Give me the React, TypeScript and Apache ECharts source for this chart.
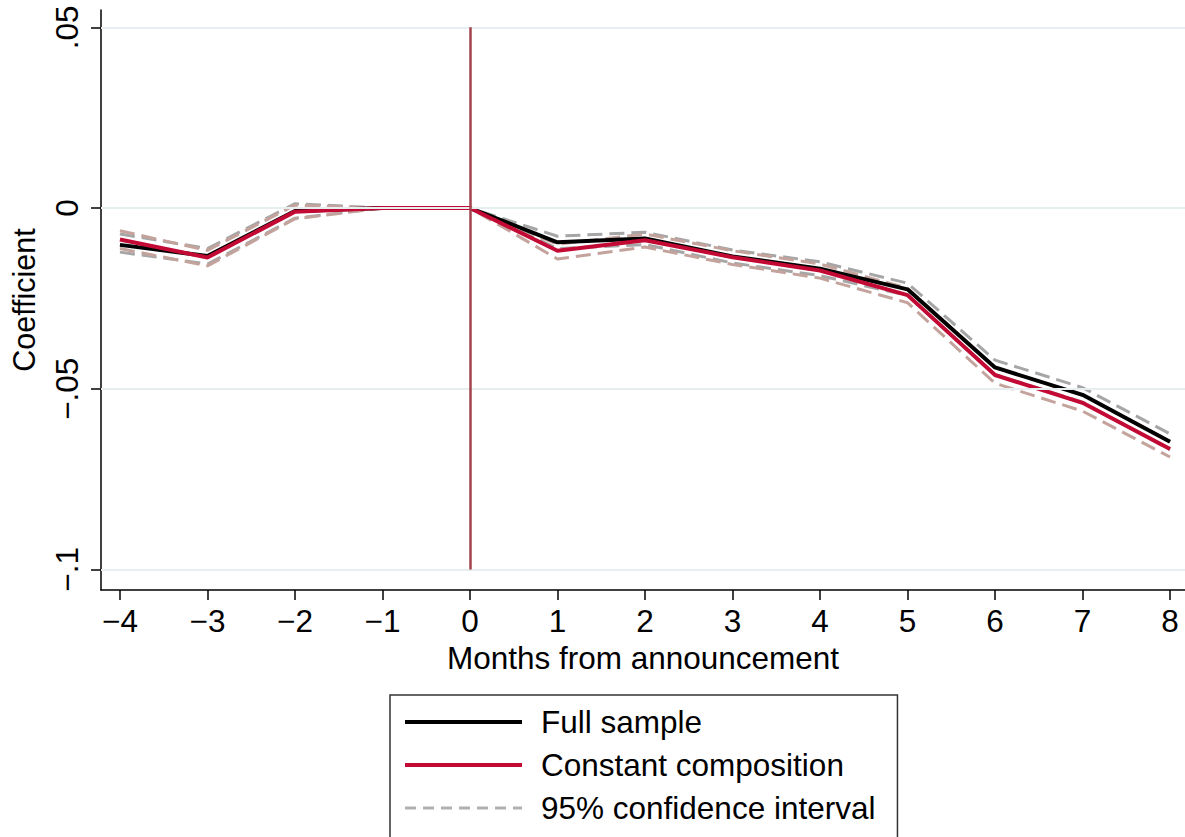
import React, { useEffect, useRef } from "react";
import * as echarts from "echarts";

const months = [-4, -3, -2, -1, 0, 1, 2, 3, 4, 5, 6, 7, 8];
const fullSample = [-0.0102, -0.0133, -0.0008, 0, 0, -0.0095, -0.0084, -0.0134, -0.0168, -0.0225, -0.0441, -0.0517, -0.0647];
const fullUpper = [-0.0072, -0.0112, 0.0012, 0, 0, -0.0078, -0.0067, -0.0116, -0.0149, -0.0208, -0.0421, -0.0497, -0.0625];
const fullLower = [-0.0122, -0.0155, -0.0028, 0, 0, -0.0112, -0.0101, -0.0152, -0.0187, -0.0242, -0.0461, -0.0537, -0.0669];
const constComp = [-0.0087, -0.0137, -0.001, 0, 0, -0.0118, -0.0089, -0.0136, -0.0173, -0.0241, -0.0462, -0.0539, -0.0667];
const constUpper = [-0.0063, -0.0117, 0.0008, 0, 0, -0.01, -0.0072, -0.0118, -0.0155, -0.0222, -0.0442, -0.0518, -0.0646];
const constLower = [-0.0112, -0.016, -0.003, 0, 0, -0.0141, -0.0108, -0.0156, -0.0194, -0.0262, -0.0485, -0.0562, -0.0689];
const yTicks = [-0.1, -0.05, 0, 0.05];
const yTickLabels: Record<string, string> = { "-0.1": "\u2212.1", "-0.05": "\u2212.05", "0": "0", "0.05": ".05" };

const FONT = "Liberation Sans, Arial, Helvetica, sans-serif";
const FS = 31.5;

function pairs(vals: number[]) {
  return months.map((m, i) => [m, vals[i]]);
}

export default function App() {
  const ref = useRef<HTMLDivElement>(null);
  useEffect(() => {
    if (!ref.current) return;
    const chart = echarts.init(ref.current, null, { renderer: "svg" });
    const dashed = (name: string, data: number[], color: string) => ({
      name,
      type: "line",
      data: pairs(data),
      symbol: "none",
      z: 2,
      lineStyle: { color, width: 3, type: [15, 7] },
      itemStyle: { color },
    });
    chart.setOption({
      animation: false,
      backgroundColor: "#ffffff",
      textStyle: { fontFamily: FONT },
      grid: { left: 98, right: 0, top: 10, bottom: 247, containLabel: false },
      legend: {
        orient: "vertical",
        left: 390,
        top: 695,
        height: 400,
        data: [
          { name: "Full sample", lineStyle: { width: 4 } },
          { name: "Constant composition", lineStyle: { width: 4 } },
          { name: "95% confidence interval", lineStyle: { width: 3, type: [11, 7], color: "#b0b0b0" } },
        ],
        itemWidth: 117,
        itemHeight: 30,
        itemGap: 11,
        padding: [11, 22, 40, 13],
        borderColor: "#333",
        borderWidth: 1.5,
        backgroundColor: "#fff",
        itemStyle: { opacity: 0 },
        textStyle: { fontSize: FS, color: "#000", fontFamily: FONT, padding: [0, 0, 0, 14] },
      },
      xAxis: {
        type: "value",
        min: -4.2165,
        max: 8.171,
        name: "Months from announcement",
        nameLocation: "middle",
        nameGap: 51,
        nameTextStyle: { fontSize: FS, color: "#000", fontFamily: FONT },
        axisLine: { show: true, onZero: false, lineStyle: { color: "#000", width: 1.5 } },
        axisTick: { show: true, length: 10, lineStyle: { color: "#000", width: 1.5 }, customValues: months },
        axisLabel: {
          customValues: months,
          fontSize: FS,
          color: "#000",
          fontFamily: FONT,
          margin: 15,
          formatter: (v: number) => (v < 0 ? "\u2212" + Math.abs(v) : String(v)),
        },
        splitLine: { show: false },
      },
      yAxis: {
        type: "value",
        min: -0.1057,
        max: 0.0548,
        name: "Coefficient",
        nameLocation: "middle",
        nameGap: 62,
        nameTextStyle: { fontSize: 30.5, color: "#000", fontFamily: FONT },
        axisLine: { show: true, onZero: false, lineStyle: { color: "#000", width: 1.5 } },
        axisTick: { show: true, length: 10, lineStyle: { color: "#000", width: 1.5 }, customValues: yTicks },
        axisLabel: {
          customValues: yTicks,
          rotate: 90,
          fontSize: FS,
          color: "#000",
          fontFamily: FONT,
          margin: 18,
          formatter: (v: number) => yTickLabels[String(Math.round(v * 100) / 100)] ?? String(v),
        },
        splitLine: { show: false },
      },
      series: [
        {
          name: "grid",
          type: "line",
          data: [],
          z: 0,
          silent: true,
          markLine: {
            silent: true,
            symbol: "none",
            label: { show: false },
            lineStyle: { color: "#e6eef0", width: 2, type: "solid" },
            data: yTicks.map((t) => ({ yAxis: t })),
          },
        },
        {
          name: "vline",
          type: "line",
          data: [],
          z: 1,
          silent: true,
          markLine: {
            silent: true,
            symbol: "none",
            label: { show: false },
            lineStyle: { color: "#a3434c", width: 2.5, type: "solid" },
            data: [[{ coord: [0, 0.05] }, { coord: [0, -0.1] }]],
          },
        },
        dashed("95% confidence interval", fullUpper, "#a6a6a6"),
        dashed("ci_full_lower", fullLower, "#a6a6a6"),
        dashed("ci_const_upper", constUpper, "#c4a39d"),
        dashed("ci_const_lower", constLower, "#c4a39d"),
        {
          name: "Full sample",
          type: "line",
          data: pairs(fullSample),
          symbol: "none",
          z: 3,
          lineStyle: { color: "#000000", width: 4 },
          itemStyle: { color: "#000000" },
        },
        {
          name: "Constant composition",
          type: "line",
          data: pairs(constComp),
          symbol: "none",
          z: 4,
          lineStyle: { color: "#c20a35", width: 4 },
          itemStyle: { color: "#c20a35" },
        },
      ],
    });
    return () => chart.dispose();
  }, []);
  return <div ref={ref} style={{ position: "fixed", left: 0, top: 0, width: 1185, height: 837 }} />;
}
